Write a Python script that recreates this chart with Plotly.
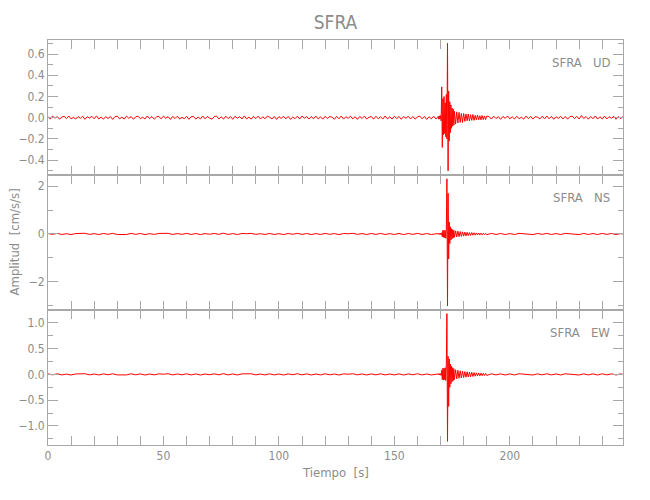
import numpy as np
import plotly.graph_objects as go
from plotly.subplots import make_subplots

# ---- sampling grids (s) ----
t_ud = np.concatenate([np.arange(0, 168.5, 1.0),        # 0 .. 168
                       np.arange(169, 176.01, 0.25),    # 169 .. 176
                       np.arange(176.5, 190.01, 0.5),   # 176.5 .. 190
                       np.arange(191, 250.5, 1.0)])     # 191 .. 250
t_hz = np.concatenate([np.arange(0, 169, 2.0),          # 0 .. 168
                       np.arange(169, 176.01, 0.25),
                       np.arange(176.5, 190.01, 0.5),
                       np.arange(192, 250.1, 2.0)])     # 192 .. 250

# ---- UD component (cm/s/s) ----
ud_quiet1 = [0.008,-0.012,0.015,-0.004,0.010,-0.014,0.006,0.012,-0.009,0.016,-0.011,0.004,-0.013,
             0.011,-0.007,0.014,-0.015,0.009,-0.003,0.013,-0.010,0.017,-0.012,0.006,-0.014,0.010,
             -0.008,0.012,-0.016,0.009,0.014,-0.011,0.005,-0.013,0.015,-0.006,0.011,-0.015,0.008,
             0.013,-0.010,0.004,-0.012,0.016,-0.009,0.011,-0.014,0.007,0.012,-0.011,0.015,-0.005,
             0.010,-0.016,0.012,-0.008,0.014,-0.012,0.003,-0.010,0.013,-0.015,0.009,0.011,-0.013,
             0.006,-0.011,0.016,-0.010,0.012,-0.004,-0.014,0.010,0.015,-0.012,0.008,-0.013,0.014,
             -0.009,0.011,-0.015,0.013,-0.006,0.010,-0.012,0.017,-0.011,0.005,-0.014,0.012,-0.008,
             0.014,-0.013,0.009,-0.010,0.015,0.004,-0.012,0.011,-0.016,0.010,-0.007,0.013,-0.011,
             0.012,-0.015,0.006,-0.009,0.014,-0.012,0.016,-0.004,0.010,-0.013,0.011,-0.010,0.015,
             -0.012,0.008,-0.014,0.013,-0.009,0.011,0.005,-0.015,0.012,-0.010,0.016,-0.013,0.009,
             -0.006,0.014,-0.011,0.010,-0.016,0.012,-0.008,0.015,-0.012,0.004,0.011,-0.014,0.013,
             -0.010,0.009,-0.013,0.016,-0.011,0.007,-0.012,0.014,-0.009,0.012,-0.015,0.010,-0.005,
             0.013,-0.012,0.011,-0.014,0.008,0.015,-0.010,0.012,-0.016,0.009,-0.011,0.014,-0.012]
ud_event = [0.012,-0.015,0.018,-0.012,0.020,-0.030,0.29,-0.28,0.18,-0.16,
            0.20,-0.15,0.14,-0.18,0.22,-0.20,0.70,-0.50,0.25,-0.22,
            0.15,-0.14,0.12,-0.10,0.09,-0.08,0.08,-0.07,0.06]
ud_coda = [-0.060,0.055,-0.050,0.050,-0.045,0.040,-0.045,0.040,-0.035,0.035,
           -0.030,0.035,-0.030,0.028,-0.025,0.030,-0.025,0.022,-0.020,0.025,
           -0.020,0.018,-0.020,0.020,-0.018,0.016,-0.018,0.015]
ud_quiet2 = [0.011,-0.013,0.014,-0.008,0.010,-0.015,0.012,-0.006,0.016,-0.011,0.009,-0.012,
             0.013,-0.010,0.005,-0.014,0.015,-0.009,0.012,-0.013,0.010,0.004,-0.012,0.014,
             -0.011,0.016,-0.010,0.012,-0.015,0.009,-0.006,0.013,-0.012,0.011,-0.014,0.010,
             0.015,-0.009,0.013,-0.012,0.020,-0.008,0.011,-0.014,0.012,-0.010,0.016,-0.013,
             0.009,-0.011,0.014,-0.012,0.010,-0.006,0.013,-0.015,0.011,-0.010,0.012,-0.013]

# ---- NS component ----
ns_quiet1 = [0.020,-0.015,0.025,-0.020,0.012,-0.025,0.018,0.010,0.030,-0.018,
             0.015,-0.022,0.020,-0.012,0.025,-0.020,-0.010,-0.022,0.026,-0.015,
             0.020,-0.025,0.015,-0.018,0.022,0.010,0.028,-0.020,0.018,-0.015,
             0.025,-0.020,0.020,-0.025,0.015,-0.010,0.022,-0.016,0.034,-0.020,
             0.018,-0.022,0.020,0.012,0.025,-0.018,0.014,-0.020,0.022,-0.020,
             0.015,-0.025,0.020,-0.012,0.026,-0.018,0.020,-0.022,0.016,-0.020,
             0.025,-0.015,0.018,-0.025,0.020,0.010,0.028,-0.016,0.018,-0.022,
             0.020,-0.018,0.025,-0.020,0.015,-0.020,0.022,-0.025,0.020,-0.015,
             0.026,-0.020,0.018,-0.022,0.025]
ns_event = [0.02,-0.02,0.025,-0.02,0.03,-0.03,0.05,-0.12,0.15,-0.14,
            0.16,-0.15,0.14,-0.18,0.25,2.30,-3.00,1.70,-1.04,0.50,
            -0.40,0.30,-0.25,0.22,-0.20,0.18,-0.16,0.15,-0.14]
ns_coda = [0.13,-0.12,0.12,-0.11,0.10,-0.10,0.09,-0.09,0.08,-0.08,
           0.07,-0.07,0.06,-0.06,0.06,-0.05,0.05,-0.05,0.045,-0.04,
           0.04,-0.04,0.035,-0.035,0.03,-0.03,0.03,-0.03]
ns_quiet2 = [0.025,-0.020,0.022,-0.025,0.018,-0.022,0.026,0.012,0.020,-0.025,
             0.022,-0.016,0.025,-0.020,0.018,-0.022,0.025,0.010,0.020,-0.025,
             0.022,-0.020,0.018,-0.022,0.025,-0.016,0.020,-0.022,0.018,-0.020]

# ---- EW component ----
ew_quiet1 = [0.010,-0.008,0.012,-0.010,0.006,-0.012,0.009,0.005,0.013,-0.009,
             0.008,-0.011,0.010,-0.007,0.012,-0.010,-0.005,-0.010,0.012,-0.008,
             0.010,-0.012,0.008,-0.009,0.011,0.004,0.013,-0.010,0.009,-0.008,
             0.012,-0.010,0.010,-0.012,0.008,-0.006,0.011,-0.008,0.015,-0.010,
             0.009,-0.011,0.010,0.005,0.012,-0.009,0.007,-0.010,0.011,-0.010,
             0.008,-0.012,0.010,-0.006,0.013,-0.009,0.010,-0.011,0.008,-0.010,
             0.012,-0.008,0.009,-0.012,0.010,0.004,0.013,-0.008,0.009,-0.011,
             0.010,-0.009,0.012,-0.010,0.008,-0.010,0.011,-0.012,0.010,-0.008,
             0.013,-0.010,0.009,-0.011,0.012]
ew_event = [0.010,-0.012,0.015,-0.012,0.015,-0.020,0.08,-0.10,0.12,-0.11,
            0.12,-0.10,0.13,-0.12,0.20,1.18,-1.30,0.35,-0.62,0.30,
            -0.25,0.20,-0.18,0.16,-0.14,0.13,-0.12,0.11,-0.10]
ew_coda = [0.090,-0.085,0.080,-0.075,0.070,-0.070,0.065,-0.060,0.055,-0.055,
           0.050,-0.050,0.045,-0.045,0.040,-0.040,0.035,-0.035,0.030,-0.030,
           0.028,-0.028,0.025,-0.025,0.022,-0.022,0.020,-0.020]
ew_quiet2 = [0.012,-0.010,0.011,-0.012,0.010,-0.011,0.013,0.005,0.010,-0.012,
             0.011,-0.009,0.012,-0.010,0.010,-0.011,0.012,0.004,0.010,-0.012,
             0.011,-0.010,0.010,-0.011,0.012,-0.009,0.010,-0.011,0.010,-0.010]

ud = ud_quiet1 + ud_event + ud_coda + ud_quiet2
ns = ns_quiet1 + ns_event + ns_coda + ns_quiet2
ew = ew_quiet1 + ew_event + ew_coda + ew_quiet2

labels = ["SFRA&nbsp;&nbsp;&nbsp;UD", "SFRA&nbsp;&nbsp;&nbsp;NS", "SFRA&nbsp;&nbsp;&nbsp;EW"]
x_ticks = [0, 50, 100, 150, 200]

FONT = "Liberation Sans Narrow, DejaVu Sans Condensed, Liberation Sans, sans-serif"
GRAY = "#8c8c8c"
AXIS = "#a8a8a8"

fig = make_subplots(rows=3, cols=1, shared_xaxes=True, vertical_spacing=0)
for i, (tx, y) in enumerate([(t_ud, ud), (t_hz, ns), (t_hz, ew)]):
    fig.add_trace(go.Scatter(x=tx, y=y, mode="lines",
                             line=dict(color="#ff0000", width=1),
                             hoverinfo="skip", showlegend=False),
                  row=i + 1, col=1)

common_x = dict(range=[0, 249], showline=True, linecolor=AXIS, linewidth=1,
                mirror="ticks", ticks="inside", ticklen=9, tickcolor=AXIS,
                tickmode="array", tickvals=x_ticks, automargin=False,
                minor=dict(dtick=10, ticks="inside", ticklen=9, tickcolor=AXIS),
                showgrid=False, zeroline=False,
                tickfont=dict(family=FONT, size=12, color=GRAY))
for r in (1, 2, 3):
    fig.update_xaxes(common_x, row=r, col=1)
fig.update_xaxes(showticklabels=False, row=1, col=1)
fig.update_xaxes(showticklabels=False, row=2, col=1)

common_y = dict(showline=True, linecolor=AXIS, linewidth=1, mirror="ticks",
                ticks="inside", ticklen=10, tickcolor=AXIS, automargin=False,
                showgrid=False, zeroline=False,
                tickfont=dict(family=FONT, size=12, color=GRAY))
fig.update_yaxes(common_y, range=[-0.54, 0.732], tick0=0, dtick=0.2, tickformat=".1f",
                 minor=dict(dtick=0.1, ticks="inside", ticklen=5, tickcolor=AXIS), row=1, col=1)
fig.update_yaxes(common_y, range=[-3.17, 2.46], tick0=0, dtick=2,
                 minor=dict(dtick=1, ticks="inside", ticklen=5, tickcolor=AXIS), row=2, col=1)
fig.update_yaxes(common_y, range=[-1.37, 1.25], tick0=0, dtick=0.5, tickformat=".1f",
                 minor=dict(dtick=0.25, ticks="inside", ticklen=5, tickcolor=AXIS), row=3, col=1)

annotations = []
for i, lab in enumerate(labels):
    sfx = "" if i == 0 else str(i + 1)
    annotations.append(dict(text=lab, xref="x%s domain" % sfx, yref="y%s domain" % sfx,
                            x=1, y=1, xanchor="right", yanchor="top", xshift=-11, yshift=-13,
                            showarrow=False, font=dict(family=FONT, size=13, color=GRAY)))
annotations.append(dict(text="Tiempo&nbsp;&nbsp;[s]", xref="paper", yref="paper", x=0.5, y=0,
                        xanchor="center", yanchor="middle", yshift=-27, showarrow=False,
                        font=dict(family=FONT, size=13, color=GRAY)))
annotations.append(dict(text="Amplitud&nbsp;&nbsp;[cm/s/s]", xref="paper", yref="paper", x=0, y=0.5,
                        xanchor="center", yanchor="middle", xshift=-34, textangle=-90,
                        showarrow=False, font=dict(family=FONT, size=13, color=GRAY)))

fig.update_layout(
    width=650, height=500,
    margin=dict(l=40, r=35, t=32, b=63),
    paper_bgcolor="white", plot_bgcolor="white",
    title=dict(text="SFRA", x=0.5, xref="paper", xanchor="center",
               y=1 - 14.5 / 500, yref="container", yanchor="middle",
               font=dict(family=FONT, size=19, color=GRAY)),
    annotations=annotations,
    showlegend=False,
)

fig.write_html("out.html", config={"displayModeBar": False})
